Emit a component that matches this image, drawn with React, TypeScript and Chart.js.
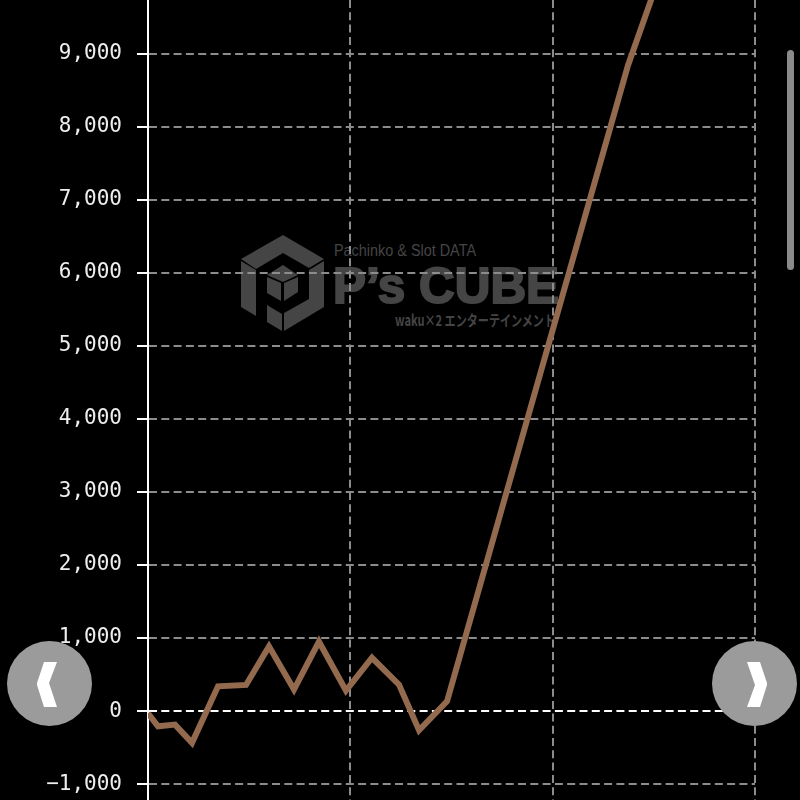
import React, { useEffect, useRef } from "react";
import { Chart, registerables } from "chart.js";

Chart.register(...registerables);

const xValues = [0, 99, 267, 435, 692, 969, 1196, 1443, 1690, 1957, 2214, 2481, 2679, 2956, 4745, 5140];
const yValues = [-30, -208, -185, -435, 339, 358, 886, 295, 950, 280, 730, 362, -262, 134, 8840, 10390];
const yMin = -1217;
const yMax = 9733;
const xMin = 0;
const xMax = 6000;
const yTicks = [-1000, 0, 1000, 2000, 3000, 4000, 5000, 6000, 7000, 8000, 9000];
const xTicks = [0, 2000, 4000, 6000];
const logoText1 = "Pachinko & Slot DATA";
const logoText2 = "P’s CUBE";
const logoText3 = "waku×2 エンターテインメント";

const gridGray = "#8c8c8c";

export default function App() {
  const ref = useRef<HTMLCanvasElement>(null);
  useEffect(() => {
    const chart = new Chart(ref.current!, {
      type: "line",
      data: {
        datasets: [
          {
            data: xValues.map((x, i) => ({ x, y: yValues[i] })),
            borderColor: "#946a4e",
            borderWidth: 6,
            pointRadius: 0,
            tension: 0,
            borderJoinStyle: "miter",
            fill: false,
          },
        ],
      },
      options: {
        responsive: false,
        animation: false,
        layout: { padding: { left: 0, right: 45, top: 0, bottom: 0 } },
        plugins: { legend: { display: false }, tooltip: { enabled: false } },
        scales: {
          x: {
            type: "linear",
            min: xMin,
            max: xMax,
            ticks: { display: false },
            afterBuildTicks: (s: any) => {
              s.ticks = xTicks.map((value) => ({ value }));
            },
            grid: { color: gridGray, lineWidth: 2, drawTicks: false },
            border: { display: false, dash: [8, 4.3] },
            afterFit: (s: any) => {
              s.height = 0;
              s.paddingLeft = 0;
              s.paddingRight = 0;
            },
          },
          y: {
            type: "linear",
            min: yMin,
            max: yMax,
            afterBuildTicks: (s: any) => {
              s.ticks = yTicks.map((value) => ({ value }));
            },
            ticks: {
              color: "#eeeeee",
              padding: 15,
              autoSkip: false,
              font: { family: "'DejaVu Sans Mono'", size: 21 },
              callback: (v: any) => Number(v).toLocaleString("en-US").replace("-", "−"),
            },
            grid: {
              color: (c: any) => (c.tick && c.tick.value === 0 ? "#ffffff" : gridGray),
              lineWidth: 2,
              tickColor: "#ffffff",
              tickLength: 11,
              tickWidth: 2,
            },
            border: { display: true, color: "#ffffff", width: 2, dash: [8, 4.3] },
            afterFit: (s: any) => {
              s.width = 148;
              s.paddingTop = 0;
              s.paddingBottom = 0;
            },
          },
        },
      },
    } as any);
    return () => chart.destroy();
  }, []);

  const circle: React.CSSProperties = {
    position: "absolute",
    top: 641,
    width: 85,
    height: 85,
    borderRadius: "50%",
    background: "#9b9b9b",
  };

  return (
    <div style={{ position: "fixed", left: 0, top: 0, width: 800, height: 800, background: "#000", overflow: "hidden" }}>
      <svg width={800} height={800} style={{ position: "absolute", left: 0, top: 0 }}>
        <g fill="#454545">
          <polygon points="241,259 283,235 324,259 309,268 283,253 256,269" />
          <polygon points="241,261 256,270 256,316 241,307" />
          <polygon points="324,261 324,307 284,331 284,313 309,299 309,270" />
          <polygon points="267,275 283,265 298,275 283,282" />
          <polygon points="267,277 281,283 281,301 267,293" />
          <polygon points="284,283 298,277 298,292 284,301" />
          <polygon points="267,305 282,314 282,331 267,322" />
        </g>
        <g fontFamily="'Liberation Sans Narrow','Liberation Sans'" fill="#454545">
          <text x={334} y={255.5} fontSize={16} textLength={142} lengthAdjust="spacingAndGlyphs">{logoText1}</text>
          <text x={333} y={303} fontSize={50} fontFamily="'Liberation Sans'" fontWeight="bold" stroke="#454545" strokeWidth={2} textLength={226} lengthAdjust="spacingAndGlyphs">{logoText2}</text>
          <text x={395} y={326} fontSize={15} fontFamily="'Noto Sans CJK JP'" fontWeight="bold" textLength={160} lengthAdjust="spacingAndGlyphs">{logoText3}</text>
        </g>
      </svg>
      <canvas ref={ref} width={800} height={800} style={{ position: "absolute", left: 0, top: 0, display: "block" }} />
      <div style={{ position: "absolute", left: 787, top: 50, width: 7, height: 220, borderRadius: 4, background: "#8a8a8a" }} />
      <div style={{ ...circle, left: 7 }}>
        <svg width={85} height={85}>
          <polygon points="37,21 50,21 42,42 50,66 37,66 30,44 30,42" fill="#fff" />
        </svg>
      </div>
      <div style={{ ...circle, left: 712 }}>
        <svg width={85} height={85}>
          <polygon points="35,21 48,21 55,42 55,44 48,66 35,66 43,44" fill="#fff" />
        </svg>
      </div>
    </div>
  );
}
